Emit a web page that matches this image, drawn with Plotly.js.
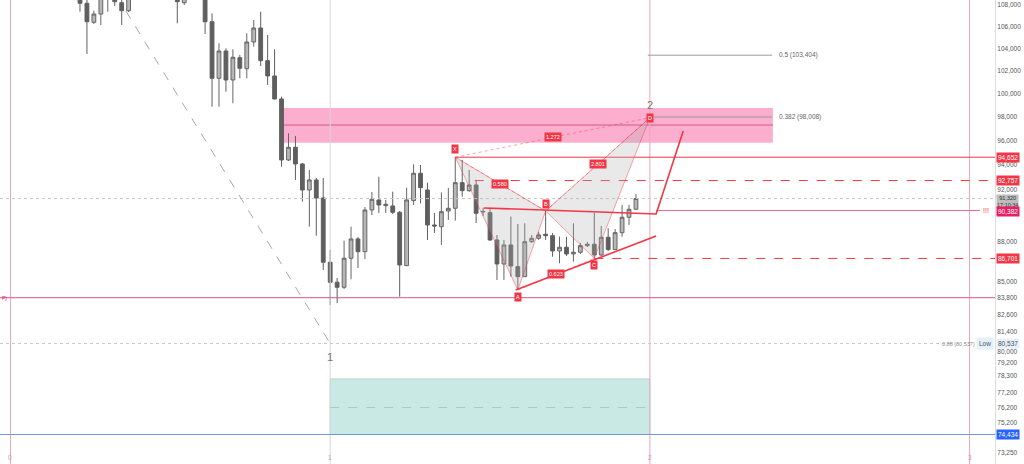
<!DOCTYPE html>
<html>
<head>
<meta charset="utf-8">
<script src="https://cdn.plot.ly/plotly-3.0.1.min.js"></script>
<style>html,body{margin:0;padding:0;background:#fff;}#chart{width:1024px;height:464px;}</style>
</head>
<body>
<div id="chart"></div>
<script>
// ---- candle data (bar index order) ----
const candleOpen  = [109224,108160,106393,107161,108752,109224,108215,107468,109035,110845,109889,112295,111327,109413,110366,108215,109889,111327,109600,106449,101354,103780,101205,103180,102200,104593,105869,102912,101556,99552,94426,95470,94100,92003,92804,91368,86415,84930,84563,86716,88178,87213,90422,91210,90760,90736,90242,86160,91155,93344,92003,89254,89123,90344,90555,92587,91947,92403,90266,90211,88102,86288,87721,86088,85343,87972,88230,88538,88431,87265,87546,87040,87168,87668,87775,86964,88308,87374,88661,89852,90477];
const candleHigh  = [109889,108469,107468,109224,110175,109795,108752,109600,111810,112295,113272,113765,111810,111327,110845,110366,112295,111810,109889,107226,104474,104023,103933,103421,105385,106605,107378,105229,103933,99750,96636,96410,94180,93612,92965,92965,87341,85247,88049,89123,88331,90658,91845,93070,91210,91869,90344,92187,94075,94018,92587,90187,91805,92163,94652,94426,93612,92804,90580,90555,88484,88102,89900,89331,89385,88484,88737,90344,88637,88354,88354,89385,87873,87950,90211,89177,88999,88945,90815,90815,91660];
const candleLow   = [107375,103510,106237,106145,107375,107907,106145,107347,108752,109224,109413,110366,108940,108752,106300,108000,108940,108752,105320,98890,98890,100183,99182,101354,101354,104168,102440,100767,99509,93880,94344,92804,91075,89123,88430,85840,83276,83420,84438,85151,85989,86663,90031,90187,90187,90109,83877,86138,90815,90948,88102,88637,87721,89642,89587,91470,91845,89409,89953,88026,85100,85100,85343,84365,85321,87873,88102,88102,86836,86340,86889,86461,87040,87569,86701,86889,87245,87341,88354,89254,90422];
const candleClose = [108160,106449,107161,108846,109600,108310,107468,109035,110845,109889,112295,111327,109413,110366,108310,109889,111327,109600,106449,101354,103780,101205,103215,102236,104593,105869,102912,101556,99552,94426,95470,94100,92003,92804,91368,86415,84930,84563,86716,88178,87213,90422,91265,90815,90870,90242,86213,91210,93344,92187,89254,89177,90289,90555,92587,91947,92403,90164,90305,88102,86288,87721,86138,85343,87972,88230,88484,88431,87265,87546,87040,87168,87668,87775,86964,88308,87374,88661,89852,90477,91320];
const candleIndex = candleOpen.map((_, i) => i);

// ---- price axis ----
const tickVals = [108000,106000,104000,102000,100000,98000,96000,94000,92000,88000,85000,83800,82600,81400,80000,79200,78300,77200,76200,75200,73250];
const tickText = ['108,000','106,000','104,000','102,000','100,000','98,000','96,000','94,000','92,000','88,000','85,000','83,800','82,600','81,400','80,000','79,200','78,300','77,200','76,200','75,200','73,250'];

// ---- levels ----
const levelX = 94652;
const levelDashed = 92757;
const levelAlert = 90382;
const levelC = 86701;
const levelPivot = 83800;
const levelFib088 = 80537;
const levelLow = 74434;
const lastPrice = 91320;
const lastTime = '17:10:34';
const fibValues = [103404, 98008];
const fibLabels = ['0.5 (103,404)', '0.382 (98,008)'];

// zone & target box
const zoneTop = 98780, zoneBottom = 95850, zoneMid = 97330;
const zoneBars = [29.2, 99.7];
const targetTop = 78105, targetBottom = 74434, targetMid = 76190;

// cycle lines
const cycleBars = [-10, 36, 82, 128];
const cycleLabels = ['0', '1', '2', '3'];

// harmonic pattern
const patternLetters = ['X', 'A', 'B', 'C', 'D'];
const patternBars = [54, 63, 67, 74, 82];
const patternPrices = [94652, 84365, 90344, 86701, 97950];
const ratioPairs = [[0, 2], [1, 3], [2, 4], [0, 4]];
const ratioLabels = ['0.580', '0.623', '2.801', '1.272'];

// projection & trend lines
const projBars = [58.1, 82.9, 86.8];
const projPrices = [90580, 90109, 96830];
const trendBars = [62.7, 82.9];
const trendPrices = [84365, 88407];
const diagBars = [6.6, 36];
const diagPrices = [107440, 80537];

// ---- drawing ----
const X0 = -11.51, X1 = 131.66;
const Y0 = 72553, Y1 = 108469;
const L = Math.log10;
const RED = '#f23645', PINK = '#e91e63';

function line(xs, ys, color, width, dash) {
  return {type: 'scatter', mode: 'lines', x: xs, y: ys, hoverinfo: 'skip', showlegend: false,
    line: {color: color, width: width || 1, dash: dash || 'solid'}};
}

const traces = [];
traces.push({type: 'candlestick', x: candleIndex, open: candleOpen, high: candleHigh, low: candleLow, close: candleClose,
  increasing: {line: {color: '#666666', width: 1}, fillcolor: '#b7b7b7'},
  decreasing: {line: {color: '#5f5f5f', width: 1}, fillcolor: '#5f5f5f'},
  whiskerwidth: 0, hoverinfo: 'none', showlegend: false});

// cycle verticals
cycleBars.forEach((b, k) => traces.push(line([b, b], [60000, 130000], k === 1 ? '#d8d8d8' : '#eaa6c0', 1)));

// horizontal levels
traces.push(line([X0, X1], [lastPrice, lastPrice], '#c8c8c8', 1, 'dot'));
traces.push(line([X0, 125.5], [levelFib088, levelFib088], '#c8c8c8', 1, 'dot'));
traces.push(line([X0, X1], [levelPivot, levelPivot], '#d6578a', 1));
traces.push(line([X0, X1], [levelLow, levelLow], '#7099dc', 1));
traces.push(line([patternBars[0], X1], [levelX, levelX], RED, 1));
traces.push(line([56.8, X1], [levelDashed, levelDashed], RED, 1, 'dash'));
traces.push(line([patternBars[3], X1], [levelC, levelC], RED, 1, 'dash'));
traces.push(line([82.9, 129.5], [levelAlert, levelAlert], '#e06b95', 1));
traces.push(line([36, 82], [targetMid, targetMid], '#a9c9c2', 1, 'dash'));

// fib lines
traces.push(line([81.7, 99.6], [fibValues[0], fibValues[0]], '#9a9a9a', 1));
traces.push(line([82.4, 99.6], [fibValues[1], fibValues[1]], '#9a9a9a', 1));

// diagonal
traces.push(line(diagBars, diagPrices, '#a8a8a8', 1, 'dash'));

// pattern triangles
function tri(a, b, c) {
  return {type: 'scatter', mode: 'lines', fill: 'toself', fillcolor: 'rgba(175,175,175,0.28)',
    x: [patternBars[a], patternBars[b], patternBars[c], patternBars[a]],
    y: [patternPrices[a], patternPrices[b], patternPrices[c], patternPrices[a]],
    line: {color: 'rgba(242,54,69,0.45)', width: 1}, hoverinfo: 'skip', showlegend: false};
}
traces.push(tri(0, 1, 2));
traces.push(tri(2, 3, 4));
ratioPairs.forEach(p => traces.push(line([patternBars[p[0]], patternBars[p[1]]], [patternPrices[p[0]], patternPrices[p[1]]], 'rgba(242,54,69,0.45)', 1, 'dot')));

// projection & trend
traces.push(line(projBars, projPrices, RED, 1.6));
traces.push(line(trendBars, trendPrices, RED, 1.6));

const shapes = [
  {type: 'rect', layer: 'below', xref: 'x', yref: 'y', x0: zoneBars[0], x1: zoneBars[1], y0: zoneBottom, y1: zoneTop,
    fillcolor: 'rgba(250,160,196,0.85)', line: {width: 0}},
  {type: 'line', layer: 'below', xref: 'x', yref: 'y', x0: zoneBars[0], x1: zoneBars[1], y0: zoneMid, y1: zoneMid,
    line: {color: '#d6578a', width: 1}},
  {type: 'rect', layer: 'below', xref: 'x', yref: 'y', x0: cycleBars[1], x1: cycleBars[2], y0: targetBottom, y1: targetTop,
    fillcolor: '#c9eae4', line: {color: '#b8d6d0', width: 1}}
];

const ann = [];
const small = {family: 'Liberation Sans, Arial, sans-serif', size: 6.5};
function axisLabel(v, text, bg, fg, size, pad) {
  ann.push({xref: 'paper', x: 1, xanchor: 'left', xshift: 1, yref: 'y', y: L(v), text: text, showarrow: false,
    bgcolor: bg, borderpad: pad === undefined ? 1 : pad, font: Object.assign({}, small, {color: fg, size: size || 6.5})});
}
// pattern letters
patternLetters.forEach((t, k) => {
  const off = [1.0075, 0.994, 1.006, 0.9945, 1][k];
  ann.push({x: patternBars[k], y: L(patternPrices[k] * off), text: t, showarrow: false, bgcolor: RED, borderpad: 1,
    font: Object.assign({}, small, {size: 5.5, color: '#fff'})});
});
ratioPairs.forEach((p, k) => {
  ann.push({x: (patternBars[p[0]] + patternBars[p[1]]) / 2,
    y: (L(patternPrices[p[0]]) + L(patternPrices[p[1]])) / 2, text: ratioLabels[k], showarrow: false,
    bgcolor: RED, borderpad: 1, font: Object.assign({}, small, {size: 5.5, color: '#fff'})});
});
// fib texts
fibValues.forEach((v, k) => ann.push({x: 100.3, xanchor: 'left', y: L(v), text: fibLabels[k], showarrow: false,
  font: Object.assign({}, small, {color: '#666'})}));
ann.push({x: 129.0, xanchor: 'right', y: L(levelFib088), text: '0.88 (80,537)', showarrow: false, font: Object.assign({}, small, {size: 5.5, color: '#888'})});
ann.push({xref: 'paper', x: 1, xanchor: 'right', xshift: -1, y: L(levelFib088), text: 'Low', showarrow: false,
  bgcolor: '#e4f0fa', borderpad: 2, font: Object.assign({}, small, {color: '#555'})});
ann.push({x: 130.4, y: L(levelAlert), text: '!!!', showarrow: false, font: Object.assign({}, small, {color: RED, size: 7})});
ann.push({xref: 'paper', x: 0, xanchor: 'left', y: L(levelPivot), text: 'P)', showarrow: false, font: Object.assign({}, small, {size: 5, color: PINK})});
// cycle numbers
ann.push({x: cycleBars[2], y: L(99036), text: '2', showarrow: false, font: {family: 'Liberation Sans, Arial', size: 11, color: '#777'}});
ann.push({x: cycleBars[1], y: L(79607), text: '1', showarrow: false, font: {family: 'Liberation Sans, Arial', size: 11, color: '#777'}});
cycleLabels.forEach((t, k) => ann.push({x: cycleBars[k], yref: 'paper', y: 0, yanchor: 'bottom', yshift: 1, text: t, showarrow: false,
  font: Object.assign({}, small, {color: k === 1 ? '#aaa' : '#e58aab'})}));
// axis labels
axisLabel(levelX, '94,652', RED, '#fff');
axisLabel(levelDashed, '92,757', RED, '#fff');
axisLabel(lastPrice * 0.9975, '91,320<br>' + lastTime, '#bdbdbd', '#333', 5.5, 0);
axisLabel(levelAlert * 0.9993, '90,382', PINK, '#fff');
axisLabel(levelC, '86,701', RED, '#fff');
axisLabel(levelFib088, '80,537', '#e4f0fa', '#555');
axisLabel(levelLow, '74,434', '#2962ff', '#fff');

const layout = {
  width: 1024, height: 464, margin: {l: 0, r: 29, t: 0, b: 0},
  paper_bgcolor: '#fff', plot_bgcolor: '#fff', showlegend: false, boxgap: 0.22,
  xaxis: {range: [X0, X1], showgrid: false, zeroline: false, showticklabels: false, ticks: '', rangeslider: {visible: false}, fixedrange: true},
  yaxis: {type: 'log', range: [L(Y0), L(Y1)], side: 'right', tickvals: tickVals, ticktext: tickText, showgrid: false, zeroline: false,
    ticks: '', showline: true, linecolor: '#dcdcdc', tickfont: {family: 'Liberation Sans, Arial, sans-serif', size: 6.5, color: '#555'}, fixedrange: true},
  shapes: shapes, annotations: ann, hovermode: false
};
Plotly.newPlot('chart', traces, layout, {staticPlot: true, displayModeBar: false});
</script>
</body>
</html>
